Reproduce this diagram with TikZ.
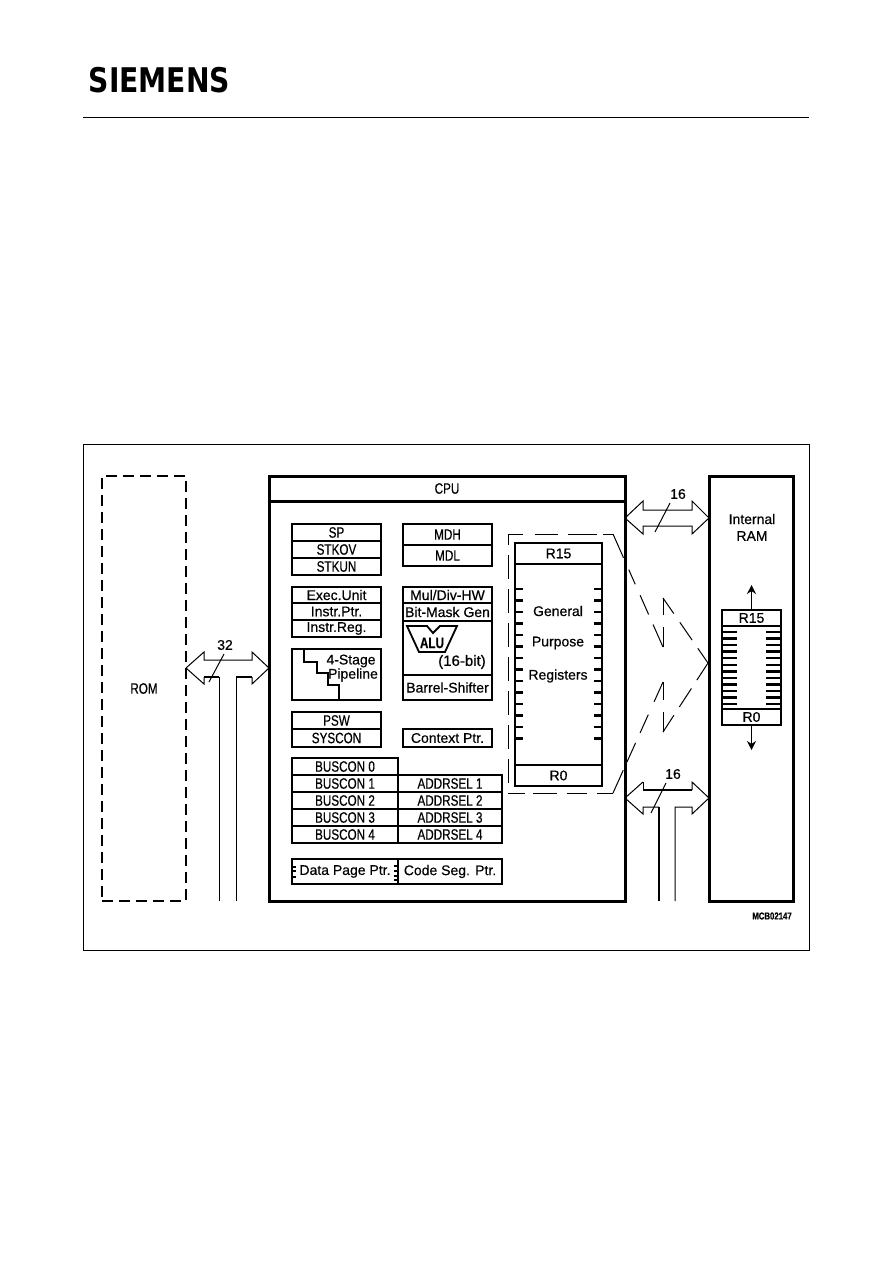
\documentclass[tikz,border=0pt]{standalone}
\usepackage{fontspec}
\setmainfont[FakeBold=0.5]{Liberation Sans}
\newfontfamily\capsfont[FakeStretch=0.78, FakeBold=0.5]{Liberation Sans}
\newfontfamily\logofont{DejaVu Sans}
\usetikzlibrary{arrows.meta, positioning, calc}

\begin{document}
\begin{tikzpicture}[
  x=1pt, y=-1pt,
  cell/.style={rectangle, draw, line width=2.6pt, inner sep=0pt, outer sep=0pt, minimum width=89pt, font=\fontsize{14}{14}\selectfont},
  capcell/.style={cell, font=\fontsize{15}{15}\capsfont},
  heavy/.style={rectangle, draw, line width=3pt, inner sep=0pt, outer sep=0pt},
  lbl/.style={inner sep=0pt, font=\fontsize{14}{14}\selectfont},
  capslbl/.style={inner sep=0pt, font=\fontsize{15}{15}\capsfont},
  bus/.style={line width=1pt},
  busheavy/.style={line width=1.8pt},
  winline/.style={line width=1pt},
  tickl/.style={line width=2.4pt},
  arrow/.style={-{Stealth[length=9pt,width=9pt]}, line width=1.2pt}
]
\useasboundingbox (0,0) rectangle (892,1263);

% -- Page head -------------------------------------------------
\node[inner sep=0pt, xscale=0.83, font=\fontsize{34}{34}\logofont\bfseries] (logo) at (159.5,80.5) {SIEMENS};
\coordinate (ruleL) at (83,117);
\coordinate (ruleR) at (809,117);
\draw[line width=1pt] (ruleL) -- (ruleR);
\node[rectangle, draw, line width=1pt, anchor=north west, minimum width=726pt, minimum height=506pt, inner sep=0pt, outer sep=0pt] (frame) at (83,444) {};

% -- Outer blocks ----------------------------------------------
\node[rectangle, draw, line width=2pt, dash pattern=on 11pt off 6pt, anchor=north west, minimum width=84pt, minimum height=425pt, inner sep=0pt, outer sep=0pt, font=\fontsize{15}{15}\capsfont] (rom) at (102,476) {ROM};
\node[heavy, anchor=north west, minimum width=356pt, minimum height=25pt, font=\fontsize{15}{15}\capsfont] (cputitle) at (269,476) {CPU};
\node[heavy, below=0pt of cputitle, minimum width=356pt, minimum height=400pt] (cpu) {};
\node[heavy, anchor=north west, minimum width=84pt, minimum height=425pt] (ram) at (709,476) {};
\node[lbl] (ramA) at (752,519) {Internal};
\node[lbl] (ramB) at (752,536) {RAM};

% -- Left register column --------------------------------------
\node[capcell, anchor=north west, minimum height=17pt] (sp) at (292,524) {SP};
\node[capcell, below=0pt of sp, minimum height=17pt] (stkov) {STKOV};
\node[capcell, below=0pt of stkov, minimum height=17pt] (stkun) {STKUN};

\node[cell, anchor=north west, minimum height=16pt] (exec) at (292,587) {Exec.Unit};
\node[cell, below=0pt of exec, minimum height=17pt] (iptr) {Instr.Ptr.};
\node[cell, below=0pt of iptr, minimum height=17pt] (ireg) {Instr.Reg.};

\node[cell, anchor=north west, minimum height=51pt] (pipe) at (292,649) {};
\node[lbl] (stage) at (351,661) {4-Stage};
\node[lbl] (pipetxt) at (353,675) {Pipeline};
\draw[line width=2.4pt] (304,649) |- (317,662) |- (328,673) |- (339,685) -- (339,700);

\node[capcell, anchor=north west, minimum height=17pt] (psw) at (292,712) {PSW};
\node[capcell, below=0pt of psw, minimum height=18pt] (syscon) {SYSCON};

% -- Middle column ---------------------------------------------
\node[capcell, anchor=north west, minimum height=21pt] (mdh) at (403,524) {MDH};
\node[capcell, below=0pt of mdh, minimum height=21pt] (mdl) {MDL};

\node[cell, anchor=north west, minimum height=16pt] (mul) at (403,587) {Mul/Div-HW};
\node[cell, below=0pt of mul, minimum height=18pt] (bitmask) {Bit-Mask Gen};
\node[cell, below=0pt of bitmask, minimum height=54pt] (alubox) {};
\node[cell, below=0pt of alubox, minimum height=25pt] (barrel) {Barrel-Shifter};
\draw[line width=1.8pt] (407,626) -- (427,626) -- (433,633) -- (440,626) -- (457,626) -- (445,652) -- (419,652) -- cycle;
\node[capslbl] (alu) at (432,643) {\bfseries ALU};
\node[lbl, font=\fontsize{15}{15}\selectfont] (bits) at (462,662) {(16-bit)};

\node[cell, anchor=north west, minimum height=18pt] (ctx) at (403,729) {Context Ptr.};

% -- Bus configuration -----------------------------------------
\node[capcell, anchor=north west, minimum width=106pt, minimum height=17pt] (bus0) at (292,758) {BUSCON 0};
\node[capcell, below=0pt of bus0, minimum width=106pt, minimum height=17pt] (bus1) {BUSCON 1};
\node[capcell, below=0pt of bus1, minimum width=106pt, minimum height=17pt] (bus2) {BUSCON 2};
\node[capcell, below=0pt of bus2, minimum width=106pt, minimum height=17pt] (bus3) {BUSCON 3};
\node[capcell, below=0pt of bus3, minimum width=106pt, minimum height=17pt] (bus4) {BUSCON 4};
\node[capcell, right=0pt of bus1, minimum width=104pt, minimum height=17pt] (addr1) {ADDRSEL 1};
\node[capcell, right=0pt of bus2, minimum width=104pt, minimum height=17pt] (addr2) {ADDRSEL 2};
\node[capcell, right=0pt of bus3, minimum width=104pt, minimum height=17pt] (addr3) {ADDRSEL 3};
\node[capcell, right=0pt of bus4, minimum width=104pt, minimum height=17pt] (addr4) {ADDRSEL 4};

\node[cell, anchor=north west, minimum width=106pt, minimum height=25pt] (dpp) at (292,859) {Data Page Ptr.};
\node[cell, right=0pt of dpp, minimum width=104pt, minimum height=25pt] (csp) {Code Seg. Ptr.};
\foreach \y in {867,871,877} \draw[line width=1.8pt] (292,\y) -- ++(4,0);
\foreach \y in {866,871,876,880} \draw[line width=1.8pt] (398,\y) -- ++(-4,0);

% -- General purpose registers ---------------------------------
\node[cell, anchor=north west, minimum width=87pt, minimum height=21pt] (gpr15) at (515,543) {R15};
\node[cell, below=0pt of gpr15, minimum width=87pt, minimum height=201pt] (gprbody) {};
\node[cell, below=0pt of gprbody, minimum width=87pt, minimum height=21pt] (gpr0) {R0};
\node[lbl] (gprA) at (558,611) {General};
\node[lbl] (gprB) at (558,643) {Purpose};
\node[lbl] (gprC) at (558,676) {Registers};
\foreach \i in {0,...,13} {
  \draw[tickl] (515,{589+\i*11.5}) -- ++(8,0);
  \draw[tickl] (602,{589+\i*11.5}) -- ++(-8,0);
}

% -- Registers in internal RAM ---------------------------------
\node[cell, anchor=north west, minimum width=59pt, minimum height=16pt] (ram15) at (722,610) {R15};
\node[cell, below=0pt of ram15, minimum width=59pt, minimum height=83pt] (rambody) {};
\node[cell, below=0pt of rambody, minimum width=59pt, minimum height=16pt] (ram0) {R0};
\foreach \i in {0,...,11} {
  \draw[tickl] (722,{632+\i*6.55}) -- ++(15,0);
  \draw[tickl] (781,{632+\i*6.55}) -- ++(-15,0);
}
\coordinate (ramup) at (751.5,585);
\coordinate (ramdown) at (751.5,750);
\draw[arrow] (ram15.north) -- (ramup);
\draw[arrow] (ram0.south) -- (ramdown);

% -- Dashed window ---------------------------------------------
\coordinate (winT) at (613,534);
\coordinate (winB) at (613,793);
\coordinate (winTL) at (508,534);
\coordinate (winBL) at (508,793);
\coordinate (ramtip) at (708,663);
\coordinate (knotA) at (663,647);
\coordinate (knotB) at (663,598);
\coordinate (knotC) at (663,682);
\coordinate (knotD) at (663,732);
\draw[winline, dash pattern=on 10pt off 6pt on 29pt off 10pt on 23pt off 12pt on 15pt off 0pt] (winT) -- (winTL);
\draw[winline, dash pattern=on 24pt off 10pt, dash phase=13pt] (winTL) -- (winBL);
\draw[winline, dash pattern=on 17pt off 8pt on 24pt off 10pt on 20pt off 10pt on 16pt off 0pt] (winBL) -- (winB);
\draw[winline, dash pattern=on 26pt off 13pt on 16pt off 12pt on 21pt off 11pt on 25pt off 0pt] (winT) -- (knotA);
\draw[winline, dash pattern=on 20pt off 12pt on 17pt off 0pt] (knotA) -- (knotB);
\draw[winline, dash pattern=on 19pt off 10.6pt on 21.5pt off 10pt on 18pt off 0pt] (knotB) -- (ramtip);
\draw[winline, dash pattern=on 25pt off 9pt on 21pt off 11pt on 20pt off 14pt on 23pt off 0pt] (winB) -- (knotC);
\draw[winline, dash pattern=on 18pt off 12pt on 20pt off 0pt] (knotC) -- (knotD);
\draw[winline, dash pattern=on 20pt off 10pt on 22pt off 10pt on 19pt off 0pt] (knotD) -- (ramtip);

% -- Buses -----------------------------------------------------
\draw[bus] (rom.east |- 0,668) coordinate (romtip) -- (204,652) -- (204,660) -- (252,660) -- (252,652) -- (cpu.west |- 0,668) -- (252,684) -- (252,677);
\draw[busheavy] (252,677) -- (236,677);
\draw[bus] (236,677) -- (236,901);
\draw[bus] (219,901) -- (219,677);
\draw[busheavy] (219,677) -- (204,677);
\draw[bus] (204,677) -- (204,684) -- (romtip);
\node[lbl] (w32) at (225,645) {32};
\coordinate (s32a) at (224,654);
\coordinate (s32b) at (209,682);
\draw[bus] (s32a) -- (s32b);

\draw[bus] (cpu.east |- 0,518) coordinate (cputip) -- (643,501) -- (643,510) -- (692,510) -- (692,501) -- (ram.west |- 0,518) -- (692,534) -- (692,526) -- (643,526) -- (643,534) -- (cputip);
\node[lbl] (w16a) at (678,494) {16};
\coordinate (s16a) at (670,503);
\coordinate (s16b) at (655,532);
\draw[bus] (s16a) -- (s16b);

\draw[bus] (cpu.east |- 0,798) coordinate (cputipb) -- (643,782);
\draw[busheavy] (643,790) -- (692,790);
\draw[bus] (643,782) -- (643,790);
\draw[bus] (692,790) -- (692,782) -- (ram.west |- 0,798) -- (692,814) -- (692,807) -- (675,807) -- (675,901);
\draw[busheavy] (659,901) -- (659,807);
\draw[bus] (659,807) -- (643,807) -- (643,814) -- (cputipb);
\node[lbl] (w16b) at (673,774) {16};
\coordinate (s16c) at (666,783);
\coordinate (s16d) at (651,813);
\draw[bus] (s16c) -- (s16d);

\node[inner sep=0pt, font=\fontsize{10}{10}\capsfont\bfseries] (drawno) at (772,916) {MCB02147};
\end{tikzpicture}
\end{document}
